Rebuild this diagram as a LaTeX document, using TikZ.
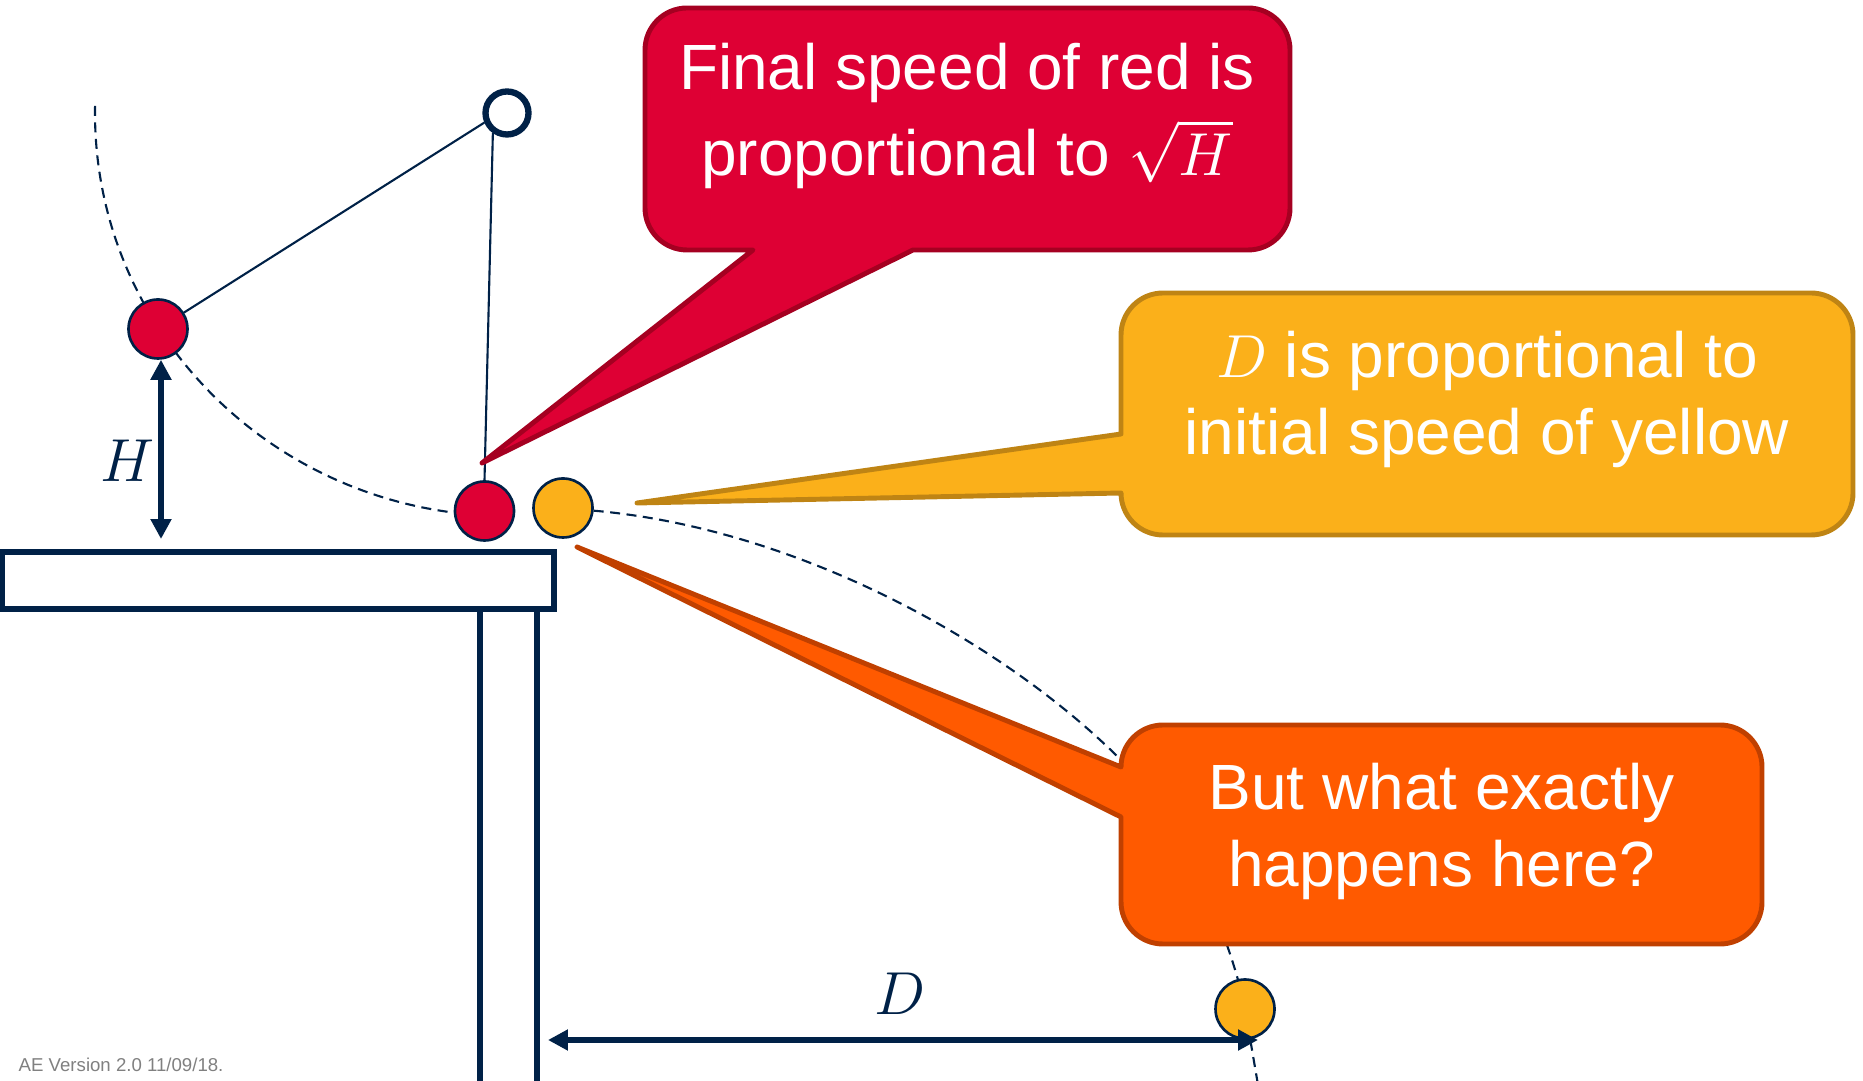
\documentclass[tikz,border=0pt]{standalone}
\usepackage{fontspec}
\setsansfont{Liberation Sans}
\usetikzlibrary{arrows.meta,calc,backgrounds}
\definecolor{navy}{HTML}{002147}
\definecolor{crimson}{HTML}{DE0034}
\definecolor{crimsonedge}{HTML}{A50021}
\definecolor{amber}{HTML}{FBB01A}
\definecolor{amberedge}{HTML}{BF8414}
\definecolor{flame}{HTML}{FF5A00}
\definecolor{flameedge}{HTML}{C04000}
\definecolor{stampgray}{HTML}{808080}

\begin{document}
\begin{tikzpicture}[
  font=\sffamily,
  ball/.style={circle, minimum size=5.9mm, inner sep=0pt, draw=navy, line width=0.75pt},
  redball/.style={ball, fill=crimson},
  yelball/.style={ball, fill=amber},
  hinge/.style={circle, minimum size=4.3mm, inner sep=0pt, draw=navy, line width=1.8pt, fill=white},
  cord/.style={draw=navy, line width=0.6pt},
  orbit/.style={draw=navy, line width=0.6pt, dash pattern=on 1mm off 0.65mm},
  bench/.style={rectangle, draw=navy, line width=1.7pt, fill=white, inner sep=0pt},
  measure/.style={{Triangle[length=2mm,width=2mm]}-{Triangle[length=2mm,width=2mm]},
                  line width=1.8pt, draw=navy},
  bubble/.style={line width=1.4pt, line join=round},
  say/.style={text=white, align=center, font=\sffamily\fontsize{18.2}{21.9}\selectfont},
  sym/.style={text=navy, font=\fontsize{17.8}{20}\selectfont},
  stamp/.style={text=stampgray, font=\sffamily\fontsize{5.3}{6.4}\selectfont,
                anchor=base west, inner sep=0pt}
]
\useasboundingbox (0,0) rectangle (18.63,10.80);

\node[bench, minimum width=55.2mm, minimum height=5.7mm] (tabletop) at (2.78,4.995) {};
\node[bench, minimum width=5.7mm, minimum height=49.1mm] (tableleg) at (5.085,2.255) {};

\node[redball] (redA) at (1.58,7.51) {};
\node[redball] (redB) at (4.845,5.69) {};
\node[yelball] (yelA) at (5.63,5.72) {};
\node[yelball] (yelB) at (12.45,0.71) {};
\node[hinge] (pivot) at (5.07,9.67) {};

\begin{scope}[on background layer]
  \draw[orbit] ([shift={(179:4.12cm and 4.03cm)}]pivot.center)
    arc[start angle=179, end angle=263, x radius=4.12, y radius=4.03];
  \draw[orbit] (yelA.-5) .. controls (7.94,5.52) and (10.01,4.40) .. (11.21,3.20)
    .. controls (11.76,2.65) and (12.29,1.51) .. (yelB.center) -- (12.58,-0.05);
  \draw[cord] (pivot.203) -- (redA);
  \draw[cord] (pivot.235) -- (redB.north);
\end{scope}

\coordinate (hfoot) at ([xshift=0.3mm]redA.south);
\draw[measure, shorten >=1mm] (hfoot) -- (hfoot |- tabletop.north);
\coordinate (dtip) at (12.58,0.40);
\draw[measure, shorten <=0.8mm] (dtip -| tableleg.east) -- (dtip);

\coordinate (redtip) at (4.82,6.17);
\coordinate (yeltip) at (6.37,5.77);
\coordinate (orgtip) at (5.77,5.33);

\draw[bubble, fill=crimson, draw=crimsonedge] (7.53,8.30) -- (redtip) -- (9.13,8.30)
  -- (12.48,8.30) arc[start angle=-90, end angle=0, radius=0.42]
  -- (12.90,10.30) arc[start angle=0, end angle=90, radius=0.42]
  -- (6.87,10.72) arc[start angle=90, end angle=180, radius=0.42]
  -- (6.45,8.72) arc[start angle=180, end angle=270, radius=0.42] -- cycle;
\draw[bubble, fill=amber, draw=amberedge] (11.21,6.46) -- (yeltip) -- (11.21,5.87)
  arc[start angle=180, end angle=270, radius=0.42]
  -- (18.11,5.45) arc[start angle=-90, end angle=0, radius=0.42]
  -- (18.53,7.45) arc[start angle=0, end angle=90, radius=0.42]
  -- (11.63,7.87) arc[start angle=90, end angle=180, radius=0.42] -- cycle;
\draw[bubble, fill=flame, draw=flameedge] (11.21,3.13) -- (orgtip) -- (11.21,2.63)
  -- (11.21,1.78) arc[start angle=180, end angle=270, radius=0.42]
  -- (17.20,1.36) arc[start angle=-90, end angle=0, radius=0.42]
  -- (17.62,3.13) arc[start angle=0, end angle=90, radius=0.42]
  -- (11.63,3.55) arc[start angle=90, end angle=180, radius=0.42] -- cycle;

\node[say] (redsay) at (9.67,9.64) {Final speed of red is\\[2.5pt]proportional to $\sqrt{H}$};
\node[say] (yelsay) at (14.87,6.81) {$D$ is proportional to\\initial speed of yellow};
\node[say] (orgsay) at (14.415,2.49) {But what exactly\\happens here?};

\node[sym] (hlabel) at (1.27,6.19) {$H$};
\node[sym] (dlabel) at (9.00,0.86) {$D$};
\node[stamp] (version) at (0.18,0.09) {AE Version 2.0 11/09/18.};

\end{tikzpicture}
\end{document}
